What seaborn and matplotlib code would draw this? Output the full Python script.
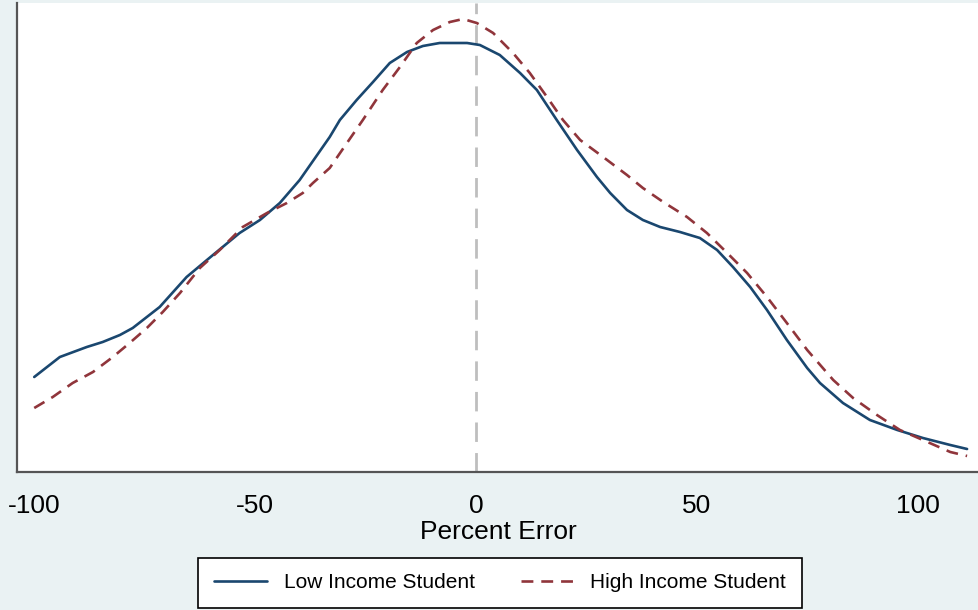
import matplotlib
matplotlib.use("Agg")
import matplotlib.pyplot as plt
import seaborn as sns
import pandas as pd

# Kernel density of percent error, by student income group
low_x = [-100.0, -94.2, -88.1, -84.5, -80.6, -77.7, -71.6, -65.5, -60.9, -53.5,
         -48.9, -44.4, -39.9, -33.1, -30.8, -27.0, -23.3, -19.5, -15.6, -12.0,
         -8.2, -2.0, 0.9, 5.4, 10.0, 13.8, 18.3, 22.9, 27.4, 30.4,
         34.2, 37.8, 41.7, 46.2, 50.7, 54.6, 58.2, 62.1, 65.9, 70.4,
         75.0, 77.9, 83.1, 89.2, 95.4, 101.2, 107.4, 111.2]
low_y = [0.00190, 0.00230, 0.00250, 0.00260, 0.00274, 0.00288, 0.00330, 0.00390, 0.00424, 0.00478,
         0.00504, 0.00538, 0.00584, 0.00670, 0.00704, 0.00744, 0.00780, 0.00818, 0.00840, 0.00852,
         0.00858, 0.00858, 0.00854, 0.00834, 0.00798, 0.00764, 0.00704, 0.00644, 0.00590, 0.00558,
         0.00524, 0.00504, 0.00490, 0.00480, 0.00468, 0.00444, 0.00410, 0.00370, 0.00324, 0.00264,
         0.00208, 0.00178, 0.00138, 0.00104, 0.00084, 0.00068, 0.00054, 0.00046]

high_x = [-100.0, -95.8, -91.3, -86.7, -82.2, -78.4, -74.5, -70.9, -67.0, -62.5,
          -58.0, -52.8, -47.3, -42.8, -39.2, -36.9, -33.1, -29.2, -25.6, -21.1,
          -17.2, -13.4, -9.7, -5.9, -2.9, 0.2, 3.9, 8.4, 12.2, 16.1,
          19.7, 23.6, 28.8, 34.2, 37.8, 42.4, 47.8, 52.3, 56.9, 61.4,
          65.9, 70.4, 75.0, 80.9, 85.4, 90.8, 96.0, 101.2, 107.4, 111.2]
high_y = [0.00128, 0.00150, 0.00178, 0.00200, 0.00230, 0.00258, 0.00288, 0.00320, 0.00358, 0.00408,
          0.00444, 0.00490, 0.00518, 0.00538, 0.00558, 0.00578, 0.00608, 0.00658, 0.00704, 0.00764,
          0.00810, 0.00858, 0.00884, 0.00900, 0.00906, 0.00898, 0.00878, 0.00838, 0.00798, 0.00750,
          0.00704, 0.00664, 0.00630, 0.00594, 0.00568, 0.00540, 0.00510, 0.00478, 0.00438, 0.00398,
          0.00350, 0.00298, 0.00244, 0.00184, 0.00148, 0.00114, 0.00084, 0.00064, 0.00040, 0.00032]

groups = ["Low Income Student", "High Income Student"]
x_ticks = [-100, -50, 0, 50, 100]

df = pd.concat([
    pd.DataFrame({"err": low_x, "density": low_y, "group": groups[0]}),
    pd.DataFrame({"err": high_x, "density": high_y, "group": groups[1]}),
], ignore_index=True)

sns.set_style("white")
plt.rcParams["font.family"] = ["Liberation Sans", "DejaVu Sans"]

BG = "#EAF2F3"
NAVY = "#1A476F"
CRANBERRY = "#90353B"

fig = plt.figure(figsize=(9.79, 6.10), dpi=100, facecolor=BG)
ax = fig.add_axes([17 / 979, 138 / 610, 1 - 17 / 979, 469 / 610])
ax.set_facecolor("white")

ax.axvline(0, color="#BEBEBE", lw=2, dashes=(7, 4), zorder=1)

sns.lineplot(data=df, x="err", y="density", hue="group", style="group",
             hue_order=groups, style_order=groups,
             palette={groups[0]: NAVY, groups[1]: CRANBERRY},
             dashes={groups[0]: "", groups[1]: (4.5, 3)},
             sort=False, estimator=None, lw=1.9, ax=ax, legend=False, zorder=3)
for line in ax.get_lines()[1:]:
    line.set_solid_joinstyle("round")
    line.set_dash_joinstyle("round")

ax.set_xlim(-103.9, 113.9)
ax.set_ylim(0, 0.00938)
ax.set_xticks(x_ticks)
ax.set_xticklabels([str(t) for t in x_ticks], fontsize=19, color="black")
ax.set_yticks([])
ax.set_ylabel("")
ax.set_xlabel("Percent Error", fontsize=19, labelpad=1, color="black")
ax.tick_params(axis="x", length=8, width=1, color="#555555", pad=8)

for side in ("top", "right"):
    ax.spines[side].set_visible(False)
for side in ("left", "bottom"):
    ax.spines[side].set_color("#555555")
    ax.spines[side].set_linewidth(1.6)

handles = [
    plt.Line2D([], [], color=NAVY, lw=1.9),
    plt.Line2D([], [], color=CRANBERRY, lw=1.9, dashes=(4.5, 3)),
]
leg = fig.legend(handles, groups, loc="center", ncol=2,
                 bbox_to_anchor=(500 / 979, 1 - 583 / 610),
                 fontsize=15, frameon=True, fancybox=False,
                 handlelength=2.55, handletextpad=0.8, columnspacing=2.2,
                 borderpad=0.75, borderaxespad=0)
for txt in leg.get_texts():
    txt.set_color("black")
frame = leg.get_frame()
frame.set_edgecolor("black")
frame.set_linewidth(1.2)
frame.set_facecolor("white")
frame.set_alpha(1)

fig.savefig("out.png", dpi=100, facecolor=BG)
